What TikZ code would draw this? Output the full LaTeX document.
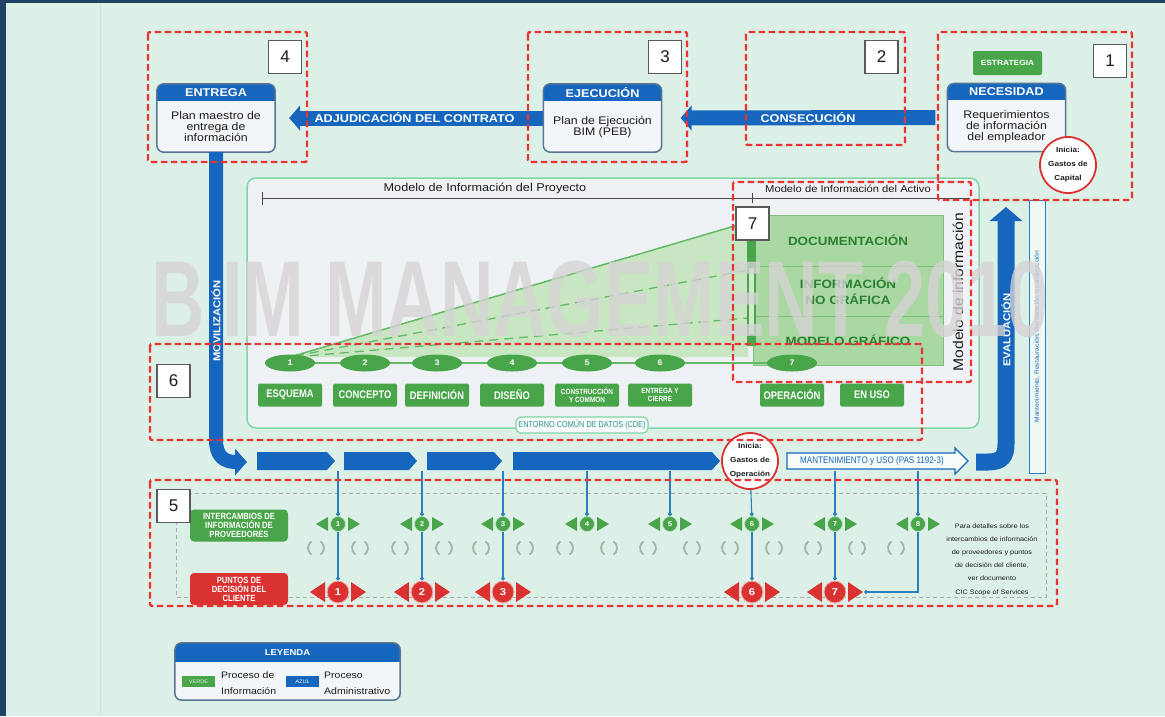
\documentclass[tikz,border=0pt]{standalone}
\usepackage{fontspec}
\setmainfont[FakeStretch=1.12]{Liberation Sans}
\newfontfamily\condfont[FakeStretch=0.85]{Liberation Sans}
\newfontfamily\plainfont{Liberation Sans}
\usetikzlibrary{arrows.meta,shapes.geometric,calc}
\pgfdeclarelayer{ground}
\pgfsetlayers{ground,main}

\definecolor{navy}{RGB}{33,66,100}
\definecolor{mint}{RGB}{221,240,231}
\definecolor{vline}{RGB}{208,228,219}
\definecolor{hblue}{RGB}{22,102,190}
\definecolor{lblue}{RGB}{45,128,190}
\definecolor{bordblue}{RGB}{88,118,146}
\definecolor{boxfill}{RGB}{242,246,248}
\definecolor{hgreen}{RGB}{72,165,74}
\definecolor{dgreen}{RGB}{44,128,52}
\definecolor{stackgreen}{RGB}{170,216,162}
\definecolor{stackline}{RGB}{130,190,125}
\definecolor{wedgefill}{RGB}{200,230,194}
\definecolor{wedgeline}{RGB}{100,185,100}
\definecolor{rdash}{RGB}{232,52,52}
\definecolor{rmark}{RGB}{218,50,48}
\definecolor{panel}{RGB}{238,242,244}
\definecolor{panelbd}{RGB}{128,214,166}
\definecolor{cdetext}{RGB}{40,150,140}
\definecolor{iconc}{RGB}{160,182,168}
\definecolor{wmark}{RGB}{214,211,213}
\definecolor{ink}{RGB}{28,28,30}
\definecolor{numbd}{RGB}{90,90,90}

\newcommand\fsz[2]{\fontsize{#1}{#2}\selectfont}

\tikzset{
  reddash/.style={draw=rdash, line width=2.4pt, dash pattern=on 6.5pt off 3.5pt, rounded corners=2pt},
  numbox/.style={draw=numbd, fill=white, line width=1.1pt, minimum width=33pt, minimum height=33pt, inner sep=0pt, text=ink, font=\plainfont\fsz{17}{17}},
  pbox/.style={fill=boxfill, rounded corners=7pt, minimum width=118pt, minimum height=68pt, inner sep=0pt},
  hdr/.style={text=white, inner sep=0pt, font=\bfseries\fsz{11.3}{12}},
  bodyt/.style={text=ink, inner sep=0pt, align=center, font=\fsz{11}{11}},
  band/.style={draw=hblue, line width=15pt},
  bandtxt/.style={text=white, inner sep=0pt, font=\bfseries\fsz{11.3}{12}},
  vtxt/.style={text=white, inner sep=0pt, rotate=90, font=\bfseries\fsz{10}{10}},
  startc/.style={circle, draw=rmark, line width=1.8pt, fill=white, minimum size=56pt, inner sep=0pt, align=center, text=ink, font=\bfseries\fsz{7.3}{14}},
  strat/.style={fill=hgreen, rounded corners=2pt, minimum width=69pt, minimum height=24pt, inner sep=0pt, text=white, font=\bfseries\fsz{7.5}{8}},
  stagedot/.style={ellipse, fill=hgreen, minimum width=50pt, minimum height=17pt, inner sep=0pt, text=white, font=\bfseries\fsz{8}{8}},
  stagebox/.style={fill=hgreen, rounded corners=1.5pt, minimum width=64pt, minimum height=23pt, inner sep=0pt, text=white, align=center, font=\condfont\bfseries\fsz{11}{11}},
  stagebox2/.style={stagebox, font=\condfont\bfseries\fsz{7.5}{8.5}},
  stack/.style={fill=stackgreen, draw=stackline, line width=0.8pt, minimum width=190pt, inner sep=0pt, align=center, text=dgreen, font=\bfseries\fsz{12}{16}},
  cdelabel/.style={draw=panelbd, line width=1.2pt, fill=white!60!panel, rounded corners=5pt, inner sep=2.5pt, minimum height=16pt, text=cdetext, font=\condfont\fsz{8.6}{9}},
  gdot/.style={circle, fill=hgreen, draw=white!65!hgreen, line width=0.8pt, minimum size=15pt, inner sep=0pt, text=white, font=\bfseries\fsz{7}{7}},
  rdot/.style={circle, fill=rmark, draw=white!60!rmark, line width=1pt, minimum size=22pt, inner sep=0pt, text=white, font=\bfseries\fsz{10}{10}},
  conn/.style={draw=lblue, line width=1.1pt, -{Circle[length=4pt]}},
  lab5/.style={minimum width=98pt, minimum height=32pt, rounded corners=4pt, inner sep=0pt, text=white, align=center, font=\condfont\bfseries\fsz{9}{9}},
  note/.style={align=center, text=ink, inner sep=0pt, font=\fsz{6.5}{13.2}},
  icon/.style={draw=iconc, line width=1.8pt},
  chevron/.style={fill=hblue},
}

% process box with a blue title strip
\newcommand\procbox[5]{%
  \node[pbox] (#1) at (#2,#3) {};
  \begin{scope}
    \clip[rounded corners=7pt] (#1.south west) rectangle (#1.north east);
    \fill[hblue] (#1.north west) rectangle ([yshift=-17pt]#1.north east);
  \end{scope}
  \draw[bordblue, line width=1.5pt, rounded corners=7pt] (#1.south west) rectangle (#1.north east);
  \node[hdr] (#1-t) at ([yshift=-8.5pt]#1.north) {#4};
  \node[bodyt] (#1-b) at ([yshift=-9pt]#1.center) {#5};
}
% supplier information exchange marker
\newcommand\supmark[3]{%
  \fill[hgreen] (#2-22,524) -- (#2-10,517) -- (#2-10,531) -- cycle;
  \fill[hgreen] (#2+22,524) -- (#2+10,517) -- (#2+10,531) -- cycle;
  \node[gdot] (#1) at (#2,524) {#3};
}
% client decision point marker
\newcommand\decmark[3]{%
  \fill[rmark] (#2-28,592) -- (#2-13,582) -- (#2-13,602) -- cycle;
  \fill[rmark] (#2+28,592) -- (#2+13,582) -- (#2+13,602) -- cycle;
  \node[rdot] (#1) at (#2,592) {#3};
}
% circular exchange icon
\newcommand\cycicon[1]{%
  \draw[icon] (#1,548) ++(125:8) arc[start angle=125, end angle=235, radius=8];
  \draw[icon] (#1,548) ++(-55:8) arc[start angle=-55, end angle=55, radius=8];
}
% blue stage-progress chevron
\newcommand\chev[2]{%
  \fill[chevron] (#1,452) -- (#2-8,452) -- (#2,461) -- (#2-8,470) -- (#1,470) -- cycle;
}

\begin{document}
\begin{tikzpicture}[x=1pt,y=-1pt]
\useasboundingbox (0,0) rectangle (1165,716);

\begin{pgfonlayer}{ground}
  \fill[navy] (0,0) rectangle (1165,716);
  \fill[mint] (6,3) rectangle (1165,716);
  \draw[vline, line width=1pt] (100,3) -- (100,716);
\end{pgfonlayer}

% ---------- upper process boxes ----------
\procbox{ent}{216}{118}{ENTREGA}{Plan maestro de\\entrega de\\información}
\procbox{ejec}{602.5}{118}{EJECUCIÓN}{Plan de Ejecución\\BIM (PEB)}
\procbox{nec}{1006.5}{117.5}{NECESIDAD}{Requerimientos\\de información\\del empleador}
\node[strat] (estr) at (1007.5,63) {ESTRATEGIA};
\node[startc] (capex) at (1068,165) {Inicia:\\Gastos de\\Capital};

\begin{pgfonlayer}{ground}
  \draw[band, -{Triangle[length=11pt,width=25pt]}] ([xshift=-12pt]nec.west) -- ([xshift=19pt]ejec.east)
     node[midway, bandtxt] {CONSECUCIÓN};
  \draw[band, -{Triangle[length=11pt,width=25pt]}] (ejec.center) -- ([xshift=14pt]ent.east)
     node[pos=0.6, bandtxt] {ADJUDICACIÓN DEL CONTRATO};
\end{pgfonlayer}

% ---------- project / asset information model panel ----------
\draw[panelbd, fill=panel, line width=1.5pt, rounded corners=9pt] (247,178) rectangle (979,428);
\node[text=ink, font=\fsz{11.3}{12}] (mip) at (485,189) {Modelo de Información del Proyecto};
\node[text=ink, font=\fsz{10}{11}] (mia) at (848,189) {Modelo de Información del Activo};
\draw[ink!80, line width=0.9pt] (262,198) -- (970,198);
\draw[ink!80, line width=0.9pt] (262,192) -- (262,205);
\draw[ink!80, line width=0.9pt] (752,193) -- (752,203);

% growing information wedge
\fill[wedgefill] (290,357) -- (748,222) -- (748,357) -- cycle;
\draw[wedgeline, line width=1.5pt] (290,357) -- (748,222);
\draw[wedgeline, line width=1.3pt, dash pattern=on 9pt off 6pt] (295,356) -- (748,270);
\draw[wedgeline, line width=1.3pt, dash pattern=on 9pt off 6pt] (295,357) -- (748,318);

% information stack
\node[stack, minimum height=51pt] (doc) at (848,240.5) {DOCUMENTACIÓN};
\node[stack, minimum height=50pt] (nog) at (848,291) {INFORMACIÓN\\NO GRÁFICA};
\node[stack, minimum height=49pt] (mod) at (848,340.5) {MODELO GRÁFICO};
\fill[hgreen] (747,237) rectangle (756,346);
\fill[stackgreen!55!white] (749,268) rectangle (754,334);
\node[rotate=90, text=ink, inner sep=0pt, font=\fsz{14}{14}] (mdi) at (958,292) {Modelo de información};

% stages
\foreach \n/\x in {1/290,2/365,3/437,4/512,5/587,6/660,7/792}
  {\node[stagedot] (e\n) at (\x,363) {\n};}
\foreach \a/\b in {e1/e2,e2/e3,e3/e4,e4/e5,e5/e6,e6/e7}
  {\draw[wedgeline, line width=2pt] (\a) -- (\b);}
\node[stagebox] (s1) at (290,395) {ESQUEMA};
\node[stagebox] (s2) at (365,395) {CONCEPTO};
\node[stagebox] (s3) at (437,395) {DEFINICIÓN};
\node[stagebox] (s4) at (512,395) {DISEÑO};
\node[stagebox2] (s5) at (587,395) {CONSTRUCCIÓN\\Y COMMON};
\node[stagebox2] (s6) at (660,395) {ENTREGA Y\\CIERRE};
\node[stagebox] (s7) at (792,395) {OPERACIÓN};
\node[stagebox] (s8) at (872,395) {EN USO};
\node[cdelabel] (cde) at (582,425) {ENTORNO COMÚN DE DATOS (CDE)};

% ---------- asset phase flow on the right ----------
\draw[line width=17pt, hblue, -{Triangle[length=14pt,width=32pt]}]
  (976,462) -- (988,462) .. controls (1002,462) and (1006,456) .. (1006,444) -- (1006,207);
\node[vtxt] (eval) at (1006,330) {EVALUACIÓN};
\node[draw=lblue, line width=1pt, fill=white!55!mint, minimum width=16pt, minimum height=273pt, inner sep=0pt] (mbox) at (1037,336.5) {};
\node[rotate=90, text=hblue, inner sep=0pt, font=\fsz{6}{6}] (mtxt) at (mbox) {Mantenimiento, Restauración, Renovación o construcción};

% watermark across the middle band
\node[anchor=base west, inner sep=0pt, text=wmark, text opacity=0.78, font=\plainfont\bfseries\fsz{108}{108}] (wm) at (151,336)
  {\scalebox{0.685}[1]{B\kern 26pt IM MANAGEMENT 2010}};

% ---------- delivery flow ----------
\draw[line width=14pt, hblue, -{Triangle[length=12pt,width=26pt]}]
  (ent.south) -- (216,440) .. controls (216,455) and (223,462) .. (247,462);
\node[vtxt] (movi) at (216,321) {MOVILIZACIÓN};
\chev{257}{335}
\chev{344}{417}
\chev{427}{502}
\chev{513}{720}
\node[startc] (opex) at (750,461) {Inicia:\\Gastos de\\Operación};
\draw[hblue, fill=white!80!mint, line width=1.2pt]
  (787,453) -- (955,453) -- (955,448) -- (968,461) -- (955,474) -- (955,469) -- (787,469) -- cycle;
\node[text=hblue, inner sep=0pt, font=\condfont\fsz{9.5}{10}] (mant) at (872,461) {MANTENIMIENTO y USO (PAS 1192-3)};

% ---------- exchanges and decision points ----------
\draw[gray!65, line width=0.8pt, dash pattern=on 4pt off 3pt] (176,493) rectangle (1046,597);
\node[lab5, fill=hgreen] (lsup) at (239,525.5) {INTERCAMBIOS DE\\INFORMACIÓN DE\\PROVEEDORES};
\node[lab5, fill=rmark] (ldec) at (239,589) {PUNTOS DE\\DECISIÓN DEL\\CLIENTE};

\foreach \x in {338,422,503,587,670,752,835,918}
  {\coordinate (t\x) at (\x,471);}
\supmark{g1}{338}{1}
\supmark{g2}{422}{2}
\supmark{g3}{503}{3}
\supmark{g4}{587}{4}
\supmark{g5}{670}{5}
\supmark{g6}{752}{6}
\supmark{g7}{835}{7}
\supmark{g8}{918}{8}
\decmark{r1}{338}{1}
\decmark{r2}{422}{2}
\decmark{r3}{503}{3}
\decmark{r6}{752}{6}
\decmark{r7}{835}{7}
\coordinate (r7e) at (864,592);

\draw[conn] (t338) -- (g1);
\draw[conn] (t422) -- (g2);
\draw[conn] (t503) -- (g3);
\draw[conn] (t587) -- (g4);
\draw[conn] (t670) -- (g5);
\draw[conn] (opex) -- (g6);
\draw[conn] (t835) -- (g7);
\draw[conn] (t918) -- (g8);
\draw[conn] (g1) -- (r1);
\draw[conn] (g2) -- (r2);
\draw[conn] (g3) -- (r3);
\draw[conn] (g6) -- (r6);
\draw[conn] (g7) -- (r7);
\draw[conn] (g8) |- (r7e);

\foreach \x in {316,360,400,444,481,525,565,609,648,692,730,774,813,857,896}
  {\cycicon{\x}}

\node[note] (note) at (992,559.5) {Para detalles sobre los\\intercambios de información\\de proveedores y puntos\\de decisión del cliente,\\ver documento\\CIC Scope of Services};

% ---------- legend ----------
\node[pbox, minimum width=225pt, minimum height=57pt] (leg) at (287.5,671.5) {};
\begin{scope}
  \clip[rounded corners=7pt] (leg.south west) rectangle (leg.north east);
  \fill[hblue] (leg.north west) rectangle ([yshift=-19pt]leg.north east);
\end{scope}
\draw[bordblue, line width=1.5pt, rounded corners=7pt] (leg.south west) rectangle (leg.north east);
\node[hdr, font=\bfseries\fsz{8.5}{9}] (leg-t) at ([yshift=-9.5pt]leg.north) {LEYENDA};
\node[fill=hgreen, minimum width=33pt, minimum height=11pt, inner sep=0pt, text=white!85!hgreen, font=\fsz{5}{5}] (legv) at (198.5,681.5) {VERDE};
\node[anchor=west, align=left, inner sep=0pt, text=ink, font=\fsz{9.4}{16}] (legvt) at (221,683.5) {Proceso de\\Información};
\node[fill=hblue, minimum width=33pt, minimum height=11pt, inner sep=0pt, text=white, font=\fsz{5}{5}] (lega) at (302.5,681.5) {AZUL};
\node[anchor=west, align=left, inner sep=0pt, text=ink, font=\fsz{9.4}{16}] (legat) at (324,683.5) {Proceso\\Administrativo};

% ---------- highlighted areas ----------
\draw[reddash] (148,32) rectangle (307,162);
\draw[reddash] (528,32) rectangle (687,162);
\draw[reddash] (746,32) rectangle (905,145);
\draw[reddash] (938,32) rectangle (1132,200);
\draw[reddash] (733,182) rectangle (971,382);
\draw[reddash] (150,344) rectangle (922,440);
\draw[reddash] (150,480) rectangle (1057,606);

\node[numbox] (n4) at (285,57) {4};
\node[numbox] (n3) at (665,57) {3};
\node[numbox] (n2) at (881.5,57) {2};
\node[numbox] (n1) at (1110,61) {1};
\node[numbox] (n7) at (752.5,223.5) {7};
\node[numbox] (n6) at (173.5,381) {6};
\node[numbox] (n5) at (173.5,506) {5};
\end{tikzpicture}
\end{document}
